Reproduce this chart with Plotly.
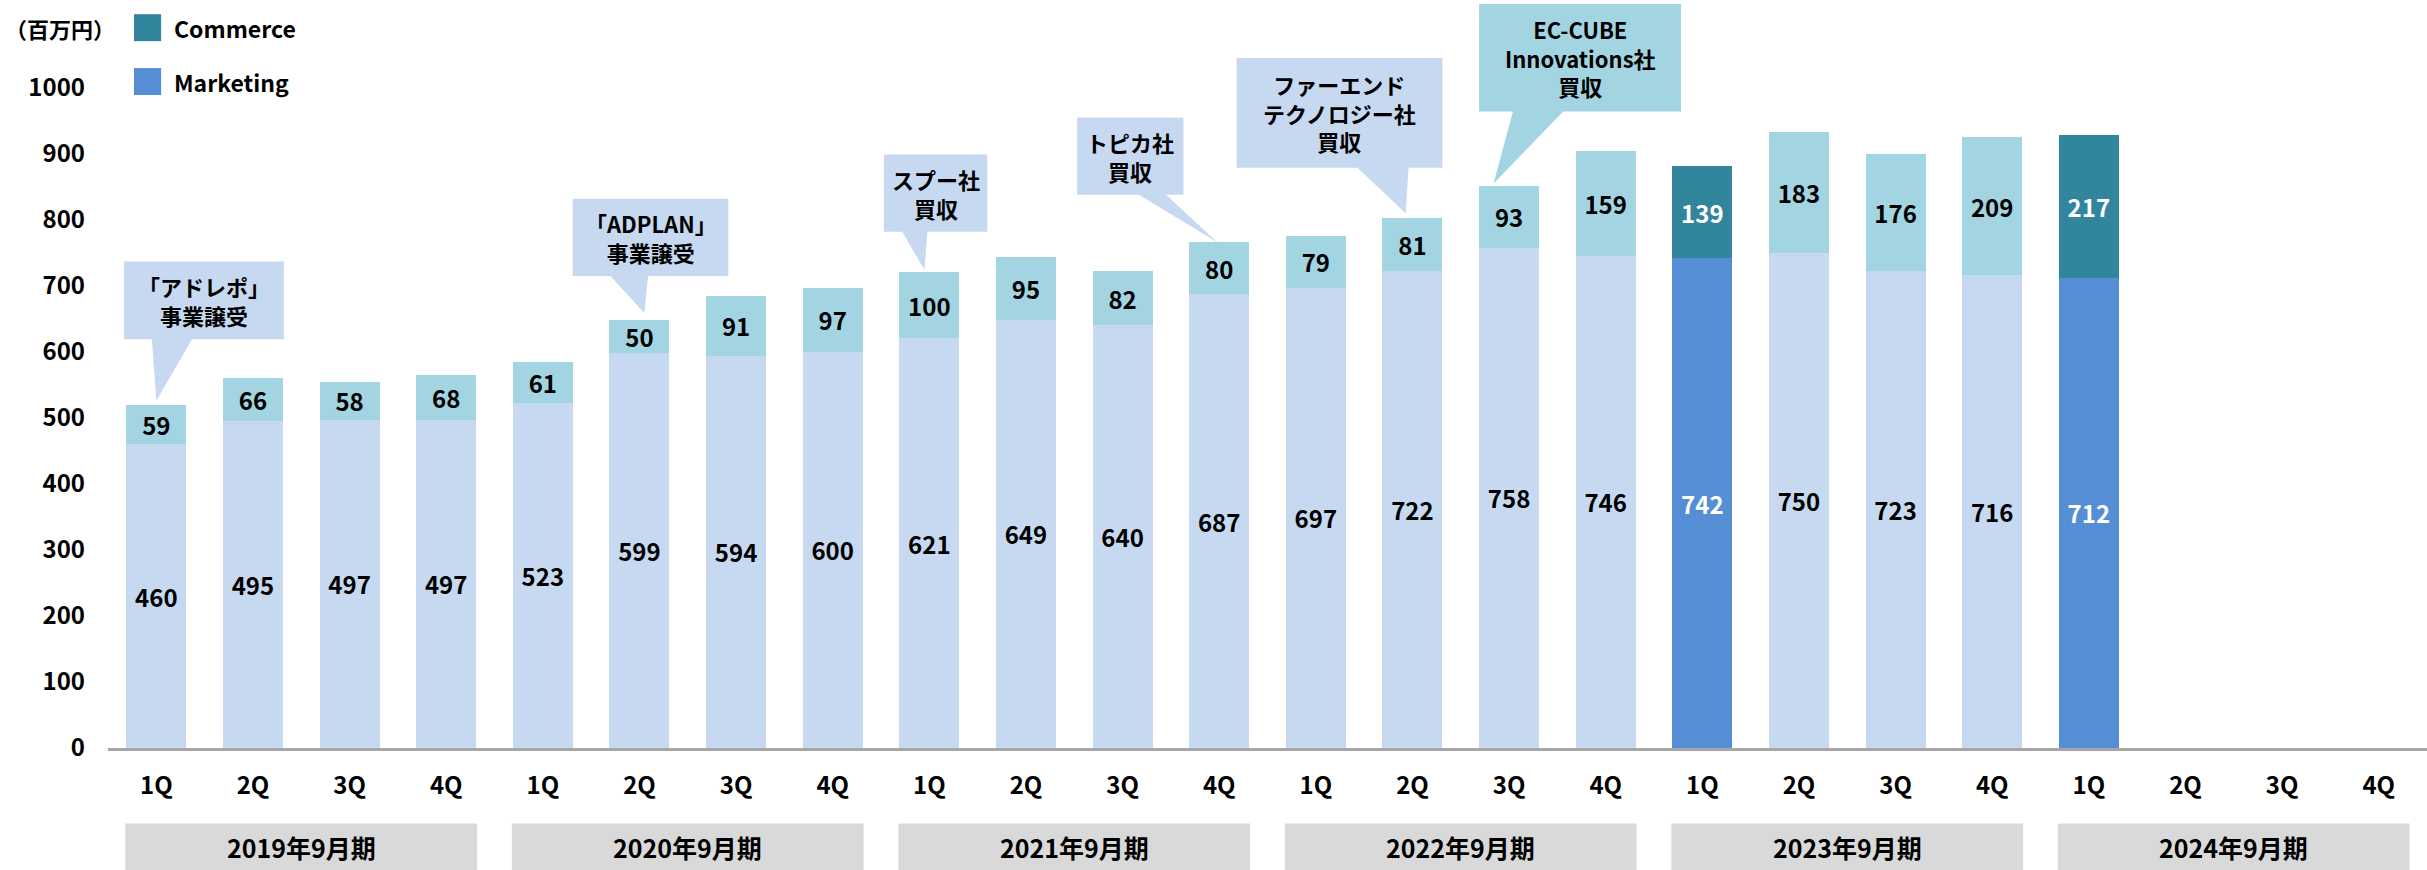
import plotly.graph_objects as go

# ---------------- data ----------------
fiscal_years = ["2019年9月期", "2020年9月期", "2021年9月期", "2022年9月期", "2023年9月期", "2024年9月期"]
quarters = ["1Q", "2Q", "3Q", "4Q"]
marketing = [460, 495, 497, 497, 523, 599, 594, 600, 621, 649, 640, 687,
             697, 722, 758, 746, 742, 750, 723, 716, 712]
commerce = [59, 66, 58, 68, 61, 50, 91, 97, 100, 95, 82, 80,
            79, 81, 93, 159, 139, 183, 176, 209, 217]
segment_quarters = [16, 20]          # quarters shown with segment colours
callout_texts = ["「アドレポ」<br>事業譲受", "「ADPLAN」<br>事業譲受", "スプー社<br>買収",
                 "トピカ社<br>買収", "ファーエンド<br>テクノロジー社<br>買収",
                 "EC-CUBE<br>Innovations社<br>買収"]
series_names = ["Commerce", "Marketing"]
unit_label = "（百万円）"

# ---------------- styles ----------------
FONT = "Noto Sans CJK JP"
C_MKT_LIGHT = "#C6D9F1"
C_COM_LIGHT = "#A2D4E1"
C_MKT = "#558ED5"
C_COM = "#31859C"
C_GREY = "#D9D9D9"

n_slots = len(fiscal_years) * len(quarters)
x_idx = list(range(len(marketing)))
tick_text = [q for _ in fiscal_years for q in quarters]

mkt_colors = [C_MKT if i in segment_quarters else C_MKT_LIGHT for i in x_idx]
com_colors = [C_COM if i in segment_quarters else C_COM_LIGHT for i in x_idx]
txt_colors = ["white" if i in segment_quarters else "black" for i in x_idx]

fig = go.Figure()
fig.add_trace(go.Bar(
    x=x_idx, y=marketing, name=series_names[1],
    marker=dict(color=mkt_colors, line=dict(width=0)),
    text=[str(v) for v in marketing], textposition="inside",
    insidetextanchor="middle", textangle=0, constraintext="none",
    textfont=dict(family=FONT, size=24, color=txt_colors, weight="bold"),
    showlegend=False, hoverinfo="skip"))
fig.add_trace(go.Bar(
    x=x_idx, y=commerce, name=series_names[0],
    marker=dict(color=com_colors, line=dict(width=0)),
    text=[str(v) for v in commerce], textposition="inside",
    insidetextanchor="middle", textangle=0, constraintext="none",
    textfont=dict(family=FONT, size=24, color=txt_colors, weight="bold"),
    showlegend=False, hoverinfo="skip"))

shapes = []
annotations = []

# fiscal year group boxes under the quarter labels
for g, fy in enumerate(fiscal_years):
    x0 = g * len(quarters) - 0.32
    x1 = g * len(quarters) + len(quarters) - 1 + 0.32
    shapes.append(dict(type="rect", xref="x", yref="paper", x0=x0, x1=x1,
                       y0=-0.165, y1=-0.101, fillcolor=C_GREY,
                       line=dict(width=0), layer="above"))
    annotations.append(dict(xref="x", yref="paper", x=(x0 + x1) / 2, y=-0.133,
                            xanchor="center", yanchor="middle",
                            text=fy, showarrow=False,
                            font=dict(family=FONT, size=25, color="black", weight="bold")))

# callouts: (box x0, x1, y_bottom, y_top, pointer base x0, x1, tip x, tip y, colour)
callout_geom = [
    (-0.334, 1.32, 619, 737, -0.045, 0.37, 0.0, 526, C_MKT_LIGHT),
    (4.31, 5.92, 715, 832, 4.70, 5.09, 5.05, 659, C_MKT_LIGHT),
    (7.53, 8.60, 782, 899, 7.72, 7.98, 7.95, 724, C_MKT_LIGHT),
    (9.53, 10.63, 838, 955, 10.17, 10.45, 10.98, 766, C_MKT_LIGHT),
    (11.18, 13.31, 879, 1045, 12.43, 12.96, 12.93, 810, C_MKT_LIGHT),
    (13.69, 15.78, 964, 1127, 14.04, 14.56, 13.84, 855, C_COM_LIGHT),
]
for (bx0, bx1, by0, by1, px0, px1, tx, ty, col), txt in zip(callout_geom, callout_texts):
    path = (f"M {bx0},{by1} L {bx1},{by1} L {bx1},{by0} L {px1},{by0} "
            f"L {tx},{ty} L {px0},{by0} L {bx0},{by0} Z")
    shapes.append(dict(type="path", xref="x", yref="y", path=path,
                       fillcolor=col, line=dict(width=0), layer="above"))
    annotations.append(dict(xref="x", yref="y", x=(bx0 + bx1) / 2, y=(by0 + by1) / 2,
                            xanchor="center", yanchor="middle",
                            text=txt, showarrow=False, align="center",
                            font=dict(family=FONT, size=22, color="black", weight="bold")))

# manual legend
for (name, col, y0, y1, yc) in [(series_names[0], C_COM, 0.945, 0.981, 0.963),
                                (series_names[1], C_MKT, 0.873, 0.909, 0.891)]:
    shapes.append(dict(type="rect", xref="paper", yref="paper", x0=0.0112, x1=0.0229,
                       y0=y0, y1=y1, fillcolor=col, line=dict(width=0)))
    annotations.append(dict(xref="paper", yref="paper", x=0.0275, y=yc,
                            xanchor="left", yanchor="middle",
                            text=name, showarrow=False,
                            font=dict(family=FONT, size=23, color="black", weight="bold")))

annotations.append(dict(xref="paper", yref="paper", x=-0.0205, y=0.963,
                        xanchor="center", yanchor="middle",
                        text=unit_label, showarrow=False,
                        font=dict(family=FONT, size=22, color="black", weight="bold")))

fig.update_layout(
    width=2427, height=870,
    margin=dict(l=108, r=0, t=0, b=122),
    barmode="stack", bargap=0.38,
    plot_bgcolor="white", paper_bgcolor="white",
    font=dict(family=FONT, size=24, color="black"),
    shapes=shapes, annotations=annotations,
    xaxis=dict(range=[-0.5, n_slots - 0.5], tickmode="array",
               tickvals=list(range(n_slots)), ticktext=tick_text,
               showgrid=False, zeroline=False, showline=True,
               linecolor="#A6A6A6", linewidth=3, ticks="",
               ticklabelstandoff=14,
               tickfont=dict(family=FONT, size=24, color="black", weight="bold")),
    yaxis=dict(range=[0, 1133], tickmode="array",
               tickvals=list(range(0, 1001, 100)),
               showgrid=False, zeroline=False, showline=False, ticks="",
               ticklabelstandoff=22,
               tickfont=dict(family=FONT, size=24, color="black", weight="bold")),
)

fig.write_html("out.html", config={"displayModeBar": False},
               post_script="document.body.style.margin='0';document.body.style.overflow='hidden';")
